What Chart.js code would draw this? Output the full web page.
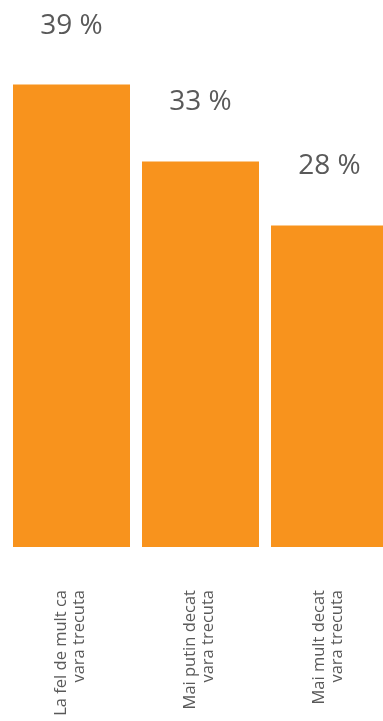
<!DOCTYPE html>
<html>
<head>
<meta charset="UTF-8">
<style>
  html, body { margin: 0; overflow: hidden; background: #fff; }
  #wrap { width: 383px; height: 721px; overflow: hidden; position: relative; }
  #chart { position: absolute; left: 0; top: 0; }
</style>
</head>
<body>
<div id="wrap"><canvas id="chart" width="395" height="721"></canvas></div>
<script src="https://cdn.jsdelivr.net/npm/chart.js@4/dist/chart.umd.min.js"></script>
<script>
  const categories = [
    ['La fel de mult ca', 'vara trecuta'],
    ['Mai putin decat', 'vara trecuta'],
    ['Mai mult decat', 'vara trecuta']
  ]
  const values = [39, 33, 28]
  const valueLabels = ['39 %', '33 %', '28 %']

  const textColor = '#595959'
  const barColor = '#F8931D'

  // draws the percentage above each bar
  const valueLabelPlugin = {
    id: 'valueLabels',
    afterDatasetsDraw(chart) {
      const ctx = chart.ctx
      const meta = chart.getDatasetMeta(0)
      ctx.save()
      ctx.font = '28px "Open Sans"'
      ctx.fillStyle = textColor
      ctx.textAlign = 'center'
      ctx.textBaseline = 'alphabetic'
      meta.data.forEach((bar, i) => {
        ctx.fillText(valueLabels[i], bar.x, bar.y - 51)
      })
      ctx.restore()
    }
  }

  const ctx = document.getElementById('chart').getContext('2d')
  const chart = new Chart(ctx, {
    type: 'bar',
    data: {
      labels: categories,
      datasets: [{
        data: values,
        backgroundColor: barColor,
        borderWidth: 0,
        categoryPercentage: 1,
        barPercentage: 0.907
      }]
    },
    options: {
      responsive: false,
      animation: false,
      // canvas is wider than the window so the last bar runs off the edge
      layout: { padding: { left: 7, right: 1, top: 0, bottom: 0 } },
      plugins: {
        legend: { display: false },
        tooltip: { enabled: false }
      },
      scales: {
        x: {
          grid: { display: false, drawTicks: false },
          border: { display: false },
          ticks: {
            autoSkip: false,
            minRotation: 90,
            maxRotation: 90,
            padding: 43,
            labelOffset: -10,
            color: textColor,
            font: { family: 'Open Sans', size: 16.5, lineHeight: 1.05 }
          },
          afterFit(scale) {
            scale.height = 174
            scale.paddingLeft = 0
            scale.paddingRight = 0
          }
        },
        y: {
          display: false,
          min: 2.9,
          max: 45.6
        }
      }
    },
    plugins: [valueLabelPlugin]
  })
</script>
</body>
</html>
